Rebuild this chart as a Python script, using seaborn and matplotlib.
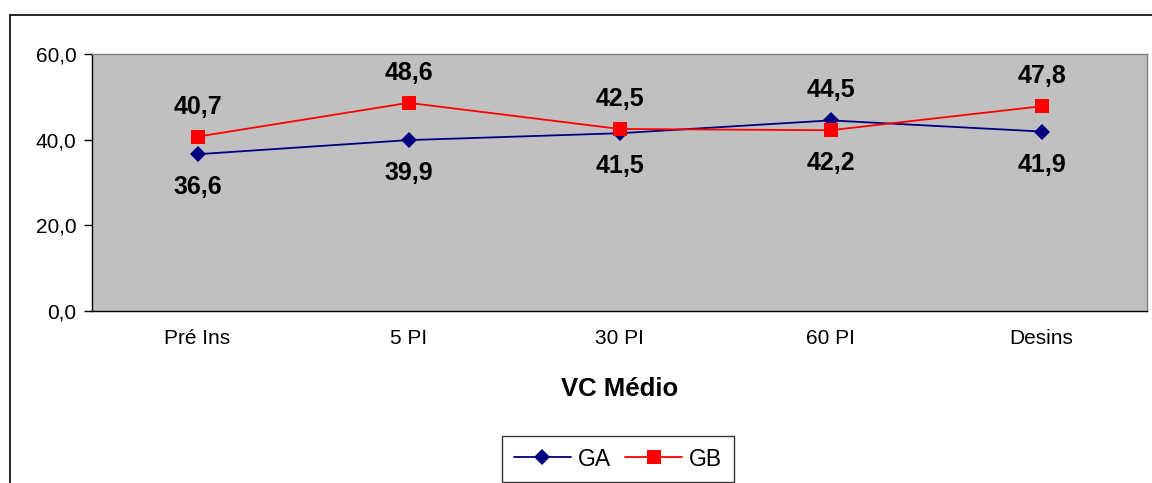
import matplotlib
matplotlib.use("Agg")
import matplotlib.pyplot as plt
import seaborn as sns
import pandas as pd
from matplotlib.lines import Line2D

categories = ["Pré Ins", "5 PI", "30 PI", "60 PI", "Desins"]
ga_values = [36.6, 39.9, 41.5, 44.5, 41.9]
gb_values = [40.7, 48.6, 42.5, 42.2, 47.8]
y_ticks = [0, 20, 40, 60]

df = pd.DataFrame({
    "pos": list(range(len(categories))) * 2,
    "valor": ga_values + gb_values,
    "grupo": ["GA"] * len(categories) + ["GB"] * len(categories),
})

sns.set_theme(style="white")
plt.rcParams["font.family"] = ["Liberation Sans", "DejaVu Sans"]
plt.rcParams["text.color"] = "black"
plt.rcParams["xtick.color"] = "black"
plt.rcParams["ytick.color"] = "black"
plt.rcParams["axes.labelcolor"] = "black"

W, H, DPI = 1152, 483, 100
fig = plt.figure(figsize=(W / DPI, H / DPI), dpi=DPI)
ax = fig.add_axes([92 / W, 1 - 311 / H, (1147 - 92) / W, (311 - 54) / H])
ax.set_facecolor("#C0C0C0")

palette = {"GA": "#000080", "GB": "#FF0000"}
markers = {"GA": "D", "GB": "s"}
sns.lineplot(data=df, x="pos", y="valor", hue="grupo", style="grupo",
             palette=palette, markers=markers, dashes=False, ax=ax,
             linewidth=1.3, legend=False)
for ln in ax.lines:
    if ln.get_marker() == "s":
        ln.set_markersize(10)
    else:
        ln.set_markersize(8)
    ln.set_markeredgewidth(0)

# value labels: higher value of each pair above its point, lower one below
def fmt(v):
    return f"{v:.1f}".replace(".", ",")

for i, (a, b) in enumerate(zip(ga_values, gb_values)):
    hi, lo = (a, b) if a > b else (b, a)
    ax.annotate(fmt(hi), (i, hi), xytext=(0, 30), textcoords="offset pixels",
                ha="center", va="center", fontsize=18, fontweight="bold")
    ax.annotate(fmt(lo), (i, lo), xytext=(0, -33), textcoords="offset pixels",
                ha="center", va="center", fontsize=18, fontweight="bold")

ax.set_xlim(-0.5, len(categories) - 0.5)
ax.set_ylim(0, 60)
ax.set_yticks(y_ticks)
ax.set_yticklabels([fmt(t) for t in y_ticks], fontsize=15)
ax.set_xticks(range(len(categories)))
ax.set_xticklabels(categories, fontsize=15)
ax.tick_params(axis="x", length=0, pad=13)
ax.set_xticks([i + 0.5 for i in range(-1, len(categories))], minor=True)
ax.tick_params(axis="x", which="minor", length=6, width=1, color="black", direction="out")
ax.tick_params(axis="y", length=6, width=1, color="black", direction="out", left=True, pad=5)
ax.set_xlabel("VC Médio", fontsize=18.5, fontweight="bold", labelpad=21)
ax.set_ylabel("")

for side in ["left", "bottom"]:
    ax.spines[side].set_color("black")
    ax.spines[side].set_linewidth(1)
for side in ["top", "right"]:
    ax.spines[side].set_color("#808080")
    ax.spines[side].set_linewidth(1)

# outer chart frame
fig.add_artist(Line2D([10 / W, 10 / W], [0, 1 - 15 / H], color="black", lw=1.2,
                      transform=fig.transFigure))
fig.add_artist(Line2D([10 / W, 1], [1 - 15 / H, 1 - 15 / H], color="black", lw=1.2,
                      transform=fig.transFigure))

handles = [
    Line2D([], [], color=palette["GA"], marker="D", markersize=8, markeredgewidth=0, lw=1.3),
    Line2D([], [], color=palette["GB"], marker="s", markersize=10, markeredgewidth=0, lw=1.3),
]
leg = fig.legend(handles, ["GA", "GB"], loc="center", bbox_to_anchor=(618 / W, 1 - 459 / H),
                 ncol=2, fontsize=16.5, frameon=True, fancybox=False, edgecolor="black",
                 handlelength=2.5, handletextpad=0.3, columnspacing=0.6, borderpad=0.5,
                 borderaxespad=0)
leg.get_frame().set_linewidth(1)

fig.savefig("out.png", dpi=DPI, facecolor="white")
